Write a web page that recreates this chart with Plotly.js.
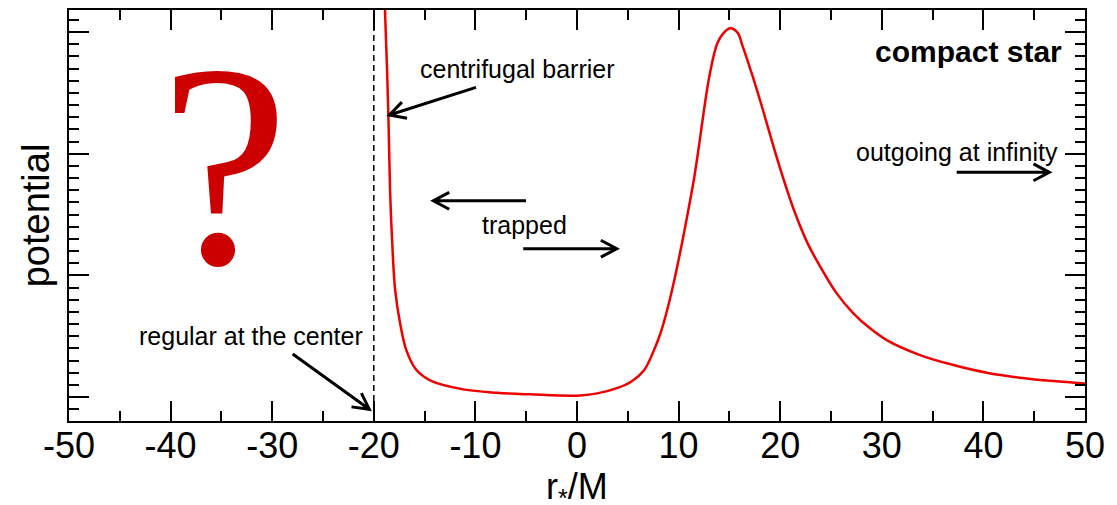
<!DOCTYPE html>
<html>
<head>
<meta charset="utf-8">
<script src="https://cdn.plot.ly/plotly-3.0.1.min.js"></script>
<style>
  html, body { margin: 0; padding: 0; background: #fff; }
  #chart { width: 1117px; height: 505px; }
</style>
</head>
<body>
<div id="chart"></div>
<script>
// Effective potential of a compact star versus tortoise coordinate r*/M
const rStar = [-19.1, -18.9, -18.57, -18.4, -18.2, -17.9, -17.42, -16.8, -15.8, -14.3,
  -11.2, -7.9, -4.63, 0, 2.0, 4.0, 5.4, 6.6, 7.5, 8.2, 8.92, 9.65, 10.3, 10.96, 11.55,
  12.04, 12.5, 13.02, 13.81, 14.4, 15.1, 15.85, 16.21, 17.3, 18.3, 19.25, 20.25, 21.35,
  22.7, 23.85, 25.56, 27.2, 28.84, 30.48, 33.76, 37.04, 40.32, 43.6, 46.88, 50.0];
const potential = [3.5, 3.18, 2.33, 1.70, 1.29, 0.88, 0.61, 0.386, 0.222, 0.13,
  0.063, 0.035, 0.022, 0.011, 0.03, 0.075, 0.13, 0.22, 0.37, 0.52, 0.73, 0.989, 1.25, 1.537, 1.811,
  2.085, 2.359, 2.633, 2.907, 2.989, 3.03, 2.989, 2.907, 2.633, 2.359, 2.085, 1.811, 1.537,
  1.263, 1.085, 0.852, 0.688, 0.565, 0.468, 0.345, 0.263, 0.200, 0.159, 0.131, 0.112];

const xTickVals = [-50, -40, -30, -20, -10, 0, 10, 20, 30, 40, 50];
const xTickText = ['-50', '-40', '-30', '-20', '-10', '0', '10', '20', '30', '40', '50'];
const xTitle = 'r<sub>*</sub>/M';

// Position of the stellar centre in r*/M
const centerR = -20;

// Arrows: [tail r*, tail V, tip r*, tip V]
const arrows = [
  [-9.94, 2.545, -18.47, 2.318],   // centrifugal barrier
  [-5.02, 1.613, -14.14, 1.613],   // trapped, leftward
  [-5.29, 1.219, 3.91, 1.219],     // trapped, rightward
  [-27.98, 0.353, -20.44, -0.101], // regular at the center
  [37.37, 1.847, 46.49, 1.847]     // outgoing at infinity
];

// Text labels: [text, r*, V]
const labels = [
  ['centrifugal barrier', -5.86, 2.70],
  ['trapped', -5.2, 1.414],
  ['regular at the center', -32.09, 0.50],
  ['outgoing at infinity', 37.4, 2.01]
];

const W = 1117, H = 505;
const M = { l: 69, r: 32, t: 10, b: 84 };
const xRange = [-50, 50];
const yRange = [-0.197, 3.181];
const plotH = H - M.t - M.b;
const pxX = (W - M.l - M.r) / (xRange[1] - xRange[0]);
const pxY = plotH / (yRange[1] - yRange[0]);

// Open V arrowhead drawn in screen space, converted back to data units
function arrowPath(x0, y0, x1, y1) {
  const X0 = x0 * pxX, Y0 = -y0 * pxY, X1 = x1 * pxX, Y1 = -y1 * pxY;
  const ang = Math.atan2(Y0 - Y1, X0 - X1);
  const L = 18, a = 28 * Math.PI / 180;
  const b1x = (X1 + L * Math.cos(ang + a)) / pxX, b1y = -(Y1 + L * Math.sin(ang + a)) / pxY;
  const b2x = (X1 + L * Math.cos(ang - a)) / pxX, b2y = -(Y1 + L * Math.sin(ang - a)) / pxY;
  return `M${x0},${y0} L${x1},${y1} M${b1x},${b1y} L${x1},${y1} L${b2x},${b2y}`;
}

const FONT = 'Liberation Sans, Arial, Helvetica, sans-serif';

const shapes = [{
  type: 'line', xref: 'x', yref: 'paper', x0: centerR, x1: centerR, y0: 0, y1: 1,
  line: { color: 'black', width: 1.5, dash: '6px,4px' }
}].concat(arrows.map(a => ({
  type: 'path', xref: 'x', yref: 'y', path: arrowPath(a[0], a[1], a[2], a[3]),
  line: { color: 'black', width: 3 }
})));

const annotations = labels.map(l => ({
  text: l[0], x: l[1], y: l[2], xref: 'x', yref: 'y', showarrow: false,
  xanchor: 'center', yanchor: 'middle', font: { family: FONT, size: 25, color: 'black' }
})).concat([
  {
    text: '<b>compact star</b>', x: 38.53, y: 2.844, xref: 'x', yref: 'y', showarrow: false,
    xanchor: 'center', yanchor: 'middle', font: { family: FONT, size: 30, color: 'black' }
  },
  {
    text: '?', x: -34.74, y: 1.90, xref: 'x', yref: 'y', showarrow: false,
    xanchor: 'center', yanchor: 'middle',
    font: { family: 'Liberation Serif, Times New Roman, serif', size: 290, color: '#cc0000' }
  },
  {
    // horizontal axis title, set just under the tick labels
    text: xTitle, x: 0, xref: 'x', y: -68 / plotH, yref: 'paper', showarrow: false,
    xanchor: 'center', yanchor: 'middle', font: { family: FONT, size: 36, color: 'black' }
  }
]);

const trace = {
  x: rStar, y: potential, type: 'scatter', mode: 'lines',
  line: { color: '#ee0000', width: 2.5, shape: 'spline', smoothing: 1.0 },
  hoverinfo: 'skip'
};

const layout = {
  width: W, height: H, margin: M,
  paper_bgcolor: 'white', plot_bgcolor: 'white',
  showlegend: false,
  font: { family: FONT, color: 'black' },
  xaxis: {
    range: xRange, tickmode: 'array', tickvals: xTickVals, ticktext: xTickText,
    ticks: 'inside', ticklen: 20, tickwidth: 2, tickcolor: 'black',
    ticklabelstandoff: -8,
    showline: true, linewidth: 2, linecolor: 'black', mirror: 'allticks',
    showgrid: false, zeroline: false,
    tickfont: { family: FONT, size: 36, color: 'black' },
    minor: { dtick: 5, tick0: 0, ticks: 'inside', ticklen: 10, tickwidth: 2, tickcolor: 'black', showgrid: false }
  },
  yaxis: {
    range: yRange, tick0: 0, dtick: 1,
    ticks: 'inside', ticklen: 20, tickwidth: 2, tickcolor: 'black',
    showticklabels: false,
    showline: true, linewidth: 2, linecolor: 'black', mirror: 'allticks',
    showgrid: false, zeroline: false,
    minor: { dtick: 0.1, tick0: 0, ticks: 'inside', ticklen: 10, tickwidth: 2, tickcolor: 'black', showgrid: false },
    title: { text: 'potential', font: { family: FONT, size: 38, color: 'black' }, standoff: 6 }
  },
  shapes: shapes,
  annotations: annotations
};

Plotly.newPlot('chart', [trace], layout, { staticPlot: true, displayModeBar: false });
</script>
</body>
</html>
